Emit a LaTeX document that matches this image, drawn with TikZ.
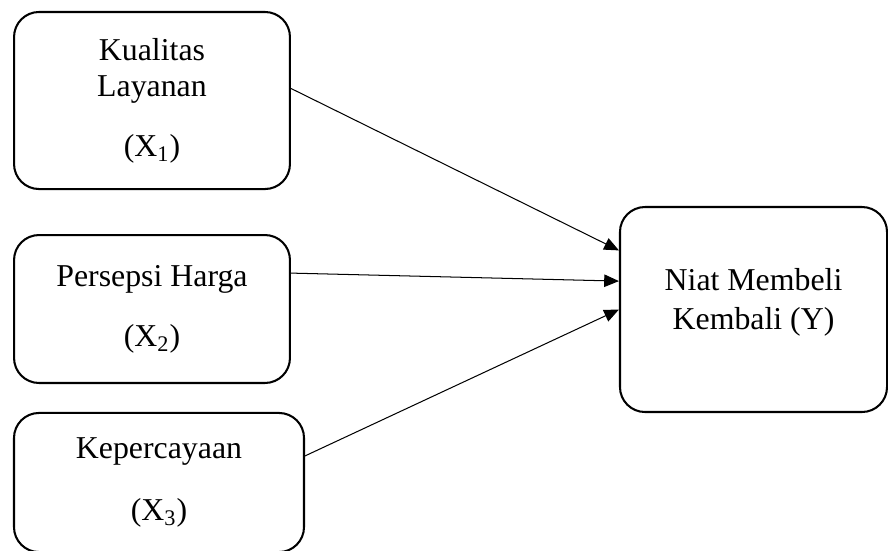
\documentclass[tikz,border=0pt]{standalone}
\usepackage{fontspec}
\setmainfont{Liberation Serif}
\usetikzlibrary{arrows.meta, positioning}

\begin{document}
\begin{tikzpicture}[x=0.44pt, y=-0.44pt,
    kotak/.style={draw, line width=0.9pt, rounded corners=11pt, align=center,
        inner sep=0pt, font=\fontsize{14}{15.8}\selectfont},
    panah/.style={-{Triangle[length=6.5pt, width=5.5pt]}, line width=0.45pt}]
        \useasboundingbox (0,0) rectangle (888,550);

        % variabel bebas
        \node[kotak, minimum width=121.4pt, minimum height=77.9pt] (kualitas) at (152, 100.5)
            {Kualitas\\Layanan\\[10.6pt](X\textsubscript{1})};
        \node[kotak, minimum width=121.4pt, minimum height=65.1pt] (harga) at (152, 309)
            {Persepsi Harga\\[10.6pt](X\textsubscript{2})};
        \node[kotak, minimum width=127.6pt, minimum height=61.2pt] (percaya) at (159, 482.5)
            {Kepercayaan\\[11.4pt](X\textsubscript{3})};

        % variabel terikat
        \node[kotak, minimum width=117.5pt, minimum height=90.2pt, text depth=9.5pt] (niat) at (753.5, 309.5)
            {Niat Membeli\\[1.4pt]Kembali (Y)};

        \draw[panah] ([yshift=5.3pt]kualitas.east) -- ([yshift=26pt]niat.west);
        \draw[panah] ([yshift=15.8pt]harga.east) -- ([yshift=12.5pt]niat.west);
        \draw[panah] ([yshift=11.7pt]percaya.east) -- (niat.west);
    \end{tikzpicture}
\end{document}
